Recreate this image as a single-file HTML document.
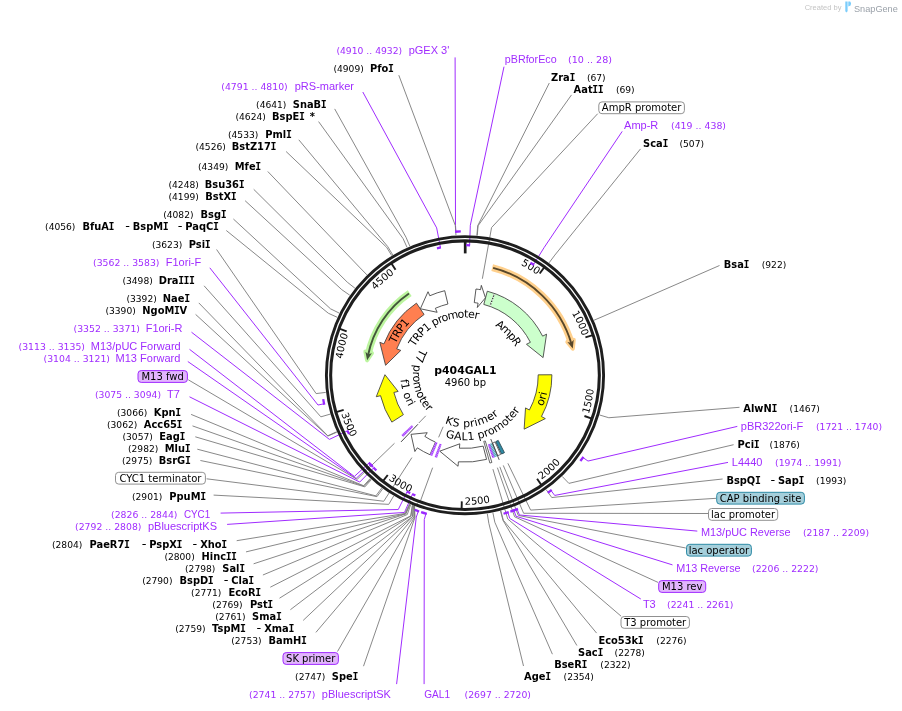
<!DOCTYPE html>
<html><head><meta charset="utf-8"><title>p404GAL1</title>
<style>html,body{margin:0;padding:0;background:#fff}svg{display:block;will-change:transform}text{white-space:pre}</style></head>
<body>
<svg width="902" height="711" viewBox="0 0 902 711">
<rect width="902" height="711" fill="#fff"/>
<defs><pattern id="hatch" width="1.3" height="1.3" patternUnits="userSpaceOnUse" patternTransform="rotate(35)"><rect width="0.5" height="1.3" fill="#fff" fill-opacity="0.6"/></pattern></defs>
<polyline points="455.1,57.4 455.51,225.5 455.9,231.69" fill="none" stroke="#a02cff" stroke-width="1" stroke-linejoin="round"/>
<polyline points="398.8,75.2 455.32,225.51 455.94,235.19" fill="none" stroke="#7a7a7a" stroke-width="0.9" stroke-linejoin="round"/>
<polyline points="362.8,92 436.67,227.9 440.45,247.54" fill="none" stroke="#a02cff" stroke-width="1" stroke-linejoin="round"/>
<polyline points="334.7,108.9 406.02,237.28 409.84,246.2" fill="none" stroke="#7a7a7a" stroke-width="0.9" stroke-linejoin="round"/>
<polyline points="318.6,121.6 403.07,238.58 407.07,247.42" fill="none" stroke="#7a7a7a" stroke-width="0.9" stroke-linejoin="round"/>
<polyline points="298.8,139.8 387.76,246.61 392.76,254.93" fill="none" stroke="#7a7a7a" stroke-width="0.9" stroke-linejoin="round"/>
<polyline points="286.1,151.5 386.63,247.3 391.69,255.57" fill="none" stroke="#7a7a7a" stroke-width="0.9" stroke-linejoin="round"/>
<polyline points="267.8,171.5 360.15,267.93 366.93,274.87" fill="none" stroke="#7a7a7a" stroke-width="0.9" stroke-linejoin="round"/>
<polyline points="253.7,189.3 347.32,282.19 354.93,288.2" fill="none" stroke="#7a7a7a" stroke-width="0.9" stroke-linejoin="round"/>
<polyline points="245.1,200.7 341.78,289.67 349.75,295.2" fill="none" stroke="#7a7a7a" stroke-width="0.9" stroke-linejoin="round"/>
<polyline points="233.4,219 330.5,308.8 339.19,313.09" fill="none" stroke="#7a7a7a" stroke-width="0.9" stroke-linejoin="round"/>
<polyline points="226.3,230.5 328.38,313.27 337.22,317.27" fill="none" stroke="#7a7a7a" stroke-width="0.9" stroke-linejoin="round"/>
<polyline points="216.6,249.5 316.13,393.59 325.76,392.4" fill="none" stroke="#7a7a7a" stroke-width="0.9" stroke-linejoin="round"/>
<polyline points="209.8,267.8 317.99,405.02 324.07,403.79" fill="none" stroke="#a02cff" stroke-width="1" stroke-linejoin="round"/>
<polyline points="204.1,285.8 320.89,416.83 330.21,414.14" fill="none" stroke="#7a7a7a" stroke-width="0.9" stroke-linejoin="round"/>
<polyline points="198.8,302.9 327.76,435.75 336.64,431.83" fill="none" stroke="#7a7a7a" stroke-width="0.9" stroke-linejoin="round"/>
<polyline points="195.6,314.4 327.92,436.09 336.78,432.16" fill="none" stroke="#7a7a7a" stroke-width="0.9" stroke-linejoin="round"/>
<polyline points="191.5,332.2 329.42,439.38 347.5,430.82" fill="none" stroke="#a02cff" stroke-width="1" stroke-linejoin="round"/>
<polyline points="189.5,349.3 354.34,476.46 369.09,462.96" fill="none" stroke="#a02cff" stroke-width="1" stroke-linejoin="round"/>
<polyline points="187.8,361.5 356.15,478.41 370.66,464.65" fill="none" stroke="#a02cff" stroke-width="1" stroke-linejoin="round"/>
<polyline points="188.3,379.8 357.1,479.4 394.5,443.28" fill="none" stroke="#7a7a7a" stroke-width="0.9" stroke-linejoin="round"/>
<polyline points="189.5,396.8 359.74,482.07 373.78,467.82" fill="none" stroke="#a02cff" stroke-width="1" stroke-linejoin="round"/>
<polyline points="191.1,414.4 363.6,485.73 370.16,478.59" fill="none" stroke="#7a7a7a" stroke-width="0.9" stroke-linejoin="round"/>
<polyline points="192.5,425.9 364.16,486.25 370.68,479.07" fill="none" stroke="#7a7a7a" stroke-width="0.9" stroke-linejoin="round"/>
<polyline points="195.3,436.8 364.87,486.88 371.34,479.66" fill="none" stroke="#7a7a7a" stroke-width="0.9" stroke-linejoin="round"/>
<polyline points="197.3,449.2 375.91,495.88 381.67,488.08" fill="none" stroke="#7a7a7a" stroke-width="0.9" stroke-linejoin="round"/>
<polyline points="200.4,460.5 376.99,496.66 382.68,488.81" fill="none" stroke="#7a7a7a" stroke-width="0.9" stroke-linejoin="round"/>
<polyline points="206.6,478.8 383.74,501.28 411.91,457.58" fill="none" stroke="#7a7a7a" stroke-width="0.9" stroke-linejoin="round"/>
<polyline points="213.6,495.1 388.74,504.37 393.67,496.02" fill="none" stroke="#7a7a7a" stroke-width="0.9" stroke-linejoin="round"/>
<polyline points="220.6,513.1 398.26,509.53 407.16,491.62" fill="none" stroke="#a02cff" stroke-width="1" stroke-linejoin="round"/>
<polyline points="227.1,524.4 404.45,512.44 412.53,494.14" fill="none" stroke="#a02cff" stroke-width="1" stroke-linejoin="round"/>
<polyline points="236.7,540.7 404.83,513.48 409.49,504.05" fill="none" stroke="#7a7a7a" stroke-width="0.9" stroke-linejoin="round"/>
<polyline points="246,551.9 405.53,513.78 409.84,504.2" fill="none" stroke="#7a7a7a" stroke-width="0.9" stroke-linejoin="round"/>
<polyline points="253.6,563.8 405.88,513.93 410.01,504.27" fill="none" stroke="#7a7a7a" stroke-width="0.9" stroke-linejoin="round"/>
<polyline points="262.9,575 407.29,514.52 410.71,504.57" fill="none" stroke="#7a7a7a" stroke-width="0.9" stroke-linejoin="round"/>
<polyline points="270.3,587.2 410.66,515.87 412.39,505.26" fill="none" stroke="#7a7a7a" stroke-width="0.9" stroke-linejoin="round"/>
<polyline points="279.5,598.2 411.02,516.01 412.57,505.33" fill="none" stroke="#7a7a7a" stroke-width="0.9" stroke-linejoin="round"/>
<polyline points="290.4,609.7 412.45,516.55 413.27,505.62" fill="none" stroke="#7a7a7a" stroke-width="0.9" stroke-linejoin="round"/>
<polyline points="303.2,620.4 412.81,516.68 413.45,505.69" fill="none" stroke="#7a7a7a" stroke-width="0.9" stroke-linejoin="round"/>
<polyline points="315.9,632.4 413.88,517.07 413.98,505.9" fill="none" stroke="#7a7a7a" stroke-width="0.9" stroke-linejoin="round"/>
<polyline points="337.5,651.5 414.6,517.33 414.45,505.75 420.6,500.57 432.61,467.69" fill="none" stroke="#7a7a7a" stroke-width="0.9" stroke-linejoin="round"/>
<polyline points="363.5,666.2 414.96,517.46 414.52,506.1" fill="none" stroke="#7a7a7a" stroke-width="0.9" stroke-linejoin="round"/>
<polyline points="396.6,684.1 416.3,517.08 418.32,511.21" fill="none" stroke="#a02cff" stroke-width="1" stroke-linejoin="round"/>
<polyline points="504,66.7 470.32,225.29 469.61,245.28" fill="none" stroke="#a02cff" stroke-width="1" stroke-linejoin="round"/>
<polyline points="549.3,83 477.72,225.74 476.89,235.41" fill="none" stroke="#7a7a7a" stroke-width="0.9" stroke-linejoin="round"/>
<polyline points="571.5,94.9 478.09,225.77 477.25,235.44" fill="none" stroke="#7a7a7a" stroke-width="0.9" stroke-linejoin="round"/>
<polyline points="597.7,113.7 491.56,227.57 482.35,278.75" fill="none" stroke="#7a7a7a" stroke-width="0.9" stroke-linejoin="round"/>
<polyline points="622.2,131.4 544.02,247.7 533.49,264.7" fill="none" stroke="#a02cff" stroke-width="1" stroke-linejoin="round"/>
<polyline points="640.5,148.9 554.85,255.09 549.04,262.86" fill="none" stroke="#7a7a7a" stroke-width="0.9" stroke-linejoin="round"/>
<polyline points="719.5,265.5 602.99,316.4 594.07,320.2" fill="none" stroke="#7a7a7a" stroke-width="0.9" stroke-linejoin="round"/>
<polyline points="739.5,407.3 608.84,417.74 599.54,414.99" fill="none" stroke="#7a7a7a" stroke-width="0.9" stroke-linejoin="round"/>
<polyline points="737.3,426.4 588.01,461.05 582.92,457.5" fill="none" stroke="#a02cff" stroke-width="1" stroke-linejoin="round"/>
<polyline points="733.6,444.7 568.89,483.39 562.18,476.4" fill="none" stroke="#7a7a7a" stroke-width="0.9" stroke-linejoin="round"/>
<polyline points="728,462.4 554.7,495.43 550.99,490.46" fill="none" stroke="#a02cff" stroke-width="1" stroke-linejoin="round"/>
<polyline points="722.6,479 551.78,497.55 546.17,489.64" fill="none" stroke="#7a7a7a" stroke-width="0.9" stroke-linejoin="round"/>
<polyline points="716.2,498.3 530.64,510.08 507.88,463.32" fill="none" stroke="#7a7a7a" stroke-width="0.9" stroke-linejoin="round"/>
<polyline points="708.3,513.5 523.61,513.28 503.29,465.41" fill="none" stroke="#7a7a7a" stroke-width="0.9" stroke-linejoin="round"/>
<polyline points="697.3,531.1 519.41,514.99 517.16,509.21" fill="none" stroke="#a02cff" stroke-width="1" stroke-linejoin="round"/>
<polyline points="685.8,548 518.27,515.42 499.8,466.81" fill="none" stroke="#7a7a7a" stroke-width="0.9" stroke-linejoin="round"/>
<polyline points="672.5,564.9 516.03,516.25 513.92,510.42" fill="none" stroke="#a02cff" stroke-width="1" stroke-linejoin="round"/>
<polyline points="658,582.4 514.58,516.77 497.39,467.69" fill="none" stroke="#7a7a7a" stroke-width="0.9" stroke-linejoin="round"/>
<polyline points="640.8,599 509.72,518.38 507.87,512.46" fill="none" stroke="#a02cff" stroke-width="1" stroke-linejoin="round"/>
<polyline points="621.1,616.2 507.73,518.99 492.92,469.14" fill="none" stroke="#7a7a7a" stroke-width="0.9" stroke-linejoin="round"/>
<polyline points="596.6,633.1 503.33,520.22 500.85,510.84" fill="none" stroke="#7a7a7a" stroke-width="0.9" stroke-linejoin="round"/>
<polyline points="576.9,645.5 502.97,520.32 500.51,510.93" fill="none" stroke="#7a7a7a" stroke-width="0.9" stroke-linejoin="round"/>
<polyline points="552.4,654.2 494.82,522.21 492.89,512.7" fill="none" stroke="#7a7a7a" stroke-width="0.9" stroke-linejoin="round"/>
<polyline points="523.5,666 488.84,523.29 487.3,513.72" fill="none" stroke="#7a7a7a" stroke-width="0.9" stroke-linejoin="round"/>
<polyline points="424.1,684.1 424.28,519.57 425.97,513.6" fill="none" stroke="#a02cff" stroke-width="1" stroke-linejoin="round"/>
<circle cx="465.0" cy="375.2" r="138.6" fill="none" stroke="#1e1e1e" stroke-width="2.9"/>
<circle cx="465.0" cy="375.2" r="134.35" fill="none" stroke="#1e1e1e" stroke-width="3.05"/>
<line x1="465.2" y1="241.2" x2="465.2" y2="253.4" stroke="#1c1c1c" stroke-width="2.7"/>
<line x1="544.31" y1="267.19" x2="539.69" y2="273.48" stroke="#1c1c1c" stroke-width="1.9"/>
<line x1="592.85" y1="335.09" x2="585.41" y2="337.42" stroke="#1c1c1c" stroke-width="1.9"/>
<line x1="591.8" y1="418.54" x2="584.42" y2="416.02" stroke="#1c1c1c" stroke-width="1.9"/>
<line x1="541.55" y1="485.18" x2="537.09" y2="478.78" stroke="#1c1c1c" stroke-width="1.9"/>
<line x1="461.61" y1="509.16" x2="461.8" y2="501.36" stroke="#1c1c1c" stroke-width="1.9"/>
<line x1="382.98" y1="481.16" x2="387.75" y2="475" stroke="#1c1c1c" stroke-width="1.9"/>
<line x1="336.17" y1="412.06" x2="343.67" y2="409.92" stroke="#1c1c1c" stroke-width="1.9"/>
<line x1="339.34" y1="328.66" x2="346.66" y2="331.37" stroke="#1c1c1c" stroke-width="1.9"/>
<line x1="391.26" y1="263.31" x2="395.55" y2="269.83" stroke="#1c1c1c" stroke-width="1.9"/>
<path id="p1" d="M455.71,251.95A123.6,123.6 0 0 1 537.11,274.81" fill="none"/>
<text font-family="DejaVu Sans, sans-serif" font-size="10" font-weight="normal" fill="#000" text-anchor="end"><textPath href="#p1" startOffset="100%">500</textPath></text>
<path id="p2" d="M529.73,269.9A123.6,123.6 0 0 1 582.27,336.15" fill="none"/>
<text font-family="DejaVu Sans, sans-serif" font-size="10" font-weight="normal" fill="#000" text-anchor="end"><textPath href="#p2" startOffset="100%">1000</textPath></text>
<path id="p3" d="M588.62,414.11A129.6,129.6 0 0 0 584.71,325.54" fill="none"/>
<text font-family="DejaVu Sans, sans-serif" font-size="10" font-weight="normal" fill="#000" text-anchor="start"><textPath href="#p3" startOffset="0">1500</textPath></text>
<path id="p4" d="M541.61,479.73A129.6,129.6 0 0 0 590.88,406.03" fill="none"/>
<text font-family="DejaVu Sans, sans-serif" font-size="10" font-weight="normal" fill="#000" text-anchor="start"><textPath href="#p4" startOffset="0">2000</textPath></text>
<path id="p5" d="M464.88,504.8A129.6,129.6 0 0 0 548.22,474.55" fill="none"/>
<text font-family="DejaVu Sans, sans-serif" font-size="10" font-weight="normal" fill="#000" text-anchor="start"><textPath href="#p5" startOffset="0">2500</textPath></text>
<path id="p6" d="M388.2,479.59A129.6,129.6 0 0 0 473.27,504.54" fill="none"/>
<text font-family="DejaVu Sans, sans-serif" font-size="10" font-weight="normal" fill="#000" text-anchor="start"><textPath href="#p6" startOffset="0">3000</textPath></text>
<path id="p7" d="M341.31,413.89A129.6,129.6 0 0 0 395.11,484.34" fill="none"/>
<text font-family="DejaVu Sans, sans-serif" font-size="10" font-weight="normal" fill="#000" text-anchor="start"><textPath href="#p7" startOffset="0">3500</textPath></text>
<path id="p8" d="M349.36,418.84A123.6,123.6 0 0 1 348.36,334.3" fill="none"/>
<text font-family="DejaVu Sans, sans-serif" font-size="10" font-weight="normal" fill="#000" text-anchor="end"><textPath href="#p8" startOffset="100%">4000</textPath></text>
<path id="p9" d="M345.73,342.77A123.6,123.6 0 0 1 394.48,273.69" fill="none"/>
<text font-family="DejaVu Sans, sans-serif" font-size="10" font-weight="normal" fill="#000" text-anchor="end"><textPath href="#p9" startOffset="100%">4500</textPath></text>
<path d="M455.02,231.75A143.8,143.8 0 0 1 460.78,231.46" fill="none" stroke="#9a28ff" stroke-width="2.3" stroke-linecap="butt"/>
<path d="M436.94,248.26A130,130 0 0 1 440.89,247.45" fill="none" stroke="#9a28ff" stroke-width="2.3" stroke-linecap="butt"/>
<path d="M324.25,404.65A143.8,143.8 0 0 1 323.21,399.17" fill="none" stroke="#9a28ff" stroke-width="2.3" stroke-linecap="butt"/>
<path d="M349.08,434.04A130,130 0 0 1 347.31,430.41" fill="none" stroke="#9a28ff" stroke-width="2.3" stroke-linecap="butt"/>
<path d="M371.89,465.92A130,130 0 0 1 368.79,462.62" fill="none" stroke="#9a28ff" stroke-width="2.3" stroke-linecap="butt"/>
<path d="M372.93,466.98A130,130 0 0 1 370.35,464.32" fill="none" stroke="#9a28ff" stroke-width="2.3" stroke-linecap="butt"/>
<path d="M376.36,470.3A130,130 0 0 1 373.45,467.5" fill="none" stroke="#9a28ff" stroke-width="2.3" stroke-linecap="butt"/>
<path d="M410.24,493.1A130,130 0 0 1 406.75,491.42" fill="none" stroke="#9a28ff" stroke-width="2.3" stroke-linecap="butt"/>
<path d="M415.37,495.35A130,130 0 0 1 412.11,493.95" fill="none" stroke="#9a28ff" stroke-width="2.3" stroke-linecap="butt"/>
<path d="M419.15,511.49A143.8,143.8 0 0 1 414.75,509.93" fill="none" stroke="#9a28ff" stroke-width="2.3" stroke-linecap="butt"/>
<path d="M466.19,245.21A130,130 0 0 1 470.06,245.3" fill="none" stroke="#9a28ff" stroke-width="2.3" stroke-linecap="butt"/>
<path d="M530.41,262.86A130,130 0 0 1 533.87,264.94" fill="none" stroke="#9a28ff" stroke-width="2.3" stroke-linecap="butt"/>
<path d="M583.42,456.78A143.8,143.8 0 0 1 580.38,461.02" fill="none" stroke="#9a28ff" stroke-width="2.3" stroke-linecap="butt"/>
<path d="M551.69,489.93A143.8,143.8 0 0 1 547.77,492.79" fill="none" stroke="#9a28ff" stroke-width="2.3" stroke-linecap="butt"/>
<path d="M517.97,508.89A143.8,143.8 0 0 1 512.57,510.9" fill="none" stroke="#9a28ff" stroke-width="2.3" stroke-linecap="butt"/>
<path d="M514.74,510.12A143.8,143.8 0 0 1 510.33,511.67" fill="none" stroke="#9a28ff" stroke-width="2.3" stroke-linecap="butt"/>
<path d="M508.71,512.2A143.8,143.8 0 0 1 503.54,513.74" fill="none" stroke="#9a28ff" stroke-width="2.3" stroke-linecap="butt"/>
<path d="M426.81,513.84A143.8,143.8 0 0 1 421.11,512.14" fill="none" stroke="#9a28ff" stroke-width="2.3" stroke-linecap="butt"/>
<path d="M474.25,302.59L475.98,289A86.9,86.9 0 0 1 480.55,289.7L481.33,285.37L485.46,297.81L477.31,307.51L478.1,303.18A73.2,73.2 0 0 0 474.25,302.59Z" fill="#ffffff" stroke="#3c3c3c" stroke-width="0.85" stroke-linejoin="miter"/>
<path d="M483.8,304.45L487.31,291.21A86.9,86.9 0 0 1 542.63,336.15L546.56,334.17L543.09,357.6L526.46,344.29L530.39,342.31A73.2,73.2 0 0 0 483.8,304.45Z" fill="#ccffcc" stroke="#3c3c3c" stroke-width="0.85" stroke-linejoin="miter"/>
<line x1="490.04" y1="305.99" x2="494.42" y2="293.86" stroke="#222" stroke-width="1.1"/>
<line x1="490.04" y1="305.99" x2="494.42" y2="293.86" stroke="#fff" stroke-width="1.3" stroke-dasharray="1.5,1.3"/>
<path d="M538.2,374.83L551.9,374.76A86.9,86.9 0 0 1 541.45,416.51L545.32,418.61L524.13,429.16L525.53,407.91L529.4,410A73.2,73.2 0 0 0 538.2,374.83Z" fill="#ffff00" stroke="#3c3c3c" stroke-width="0.85" stroke-linejoin="miter"/>
<path d="M483.17,446.11L486.57,459.38A86.9,86.9 0 0 1 458.39,461.85L458.05,466.24L439.78,451.17L459.77,443.8L459.43,448.19A73.2,73.2 0 0 0 483.17,446.11Z" fill="#ffffff" stroke="#3c3c3c" stroke-width="0.85" stroke-linejoin="miter"/>
<path d="M435.45,442.17L429.92,454.71A86.9,86.9 0 0 1 417.31,447.84L414.89,451.52L411.04,434.33L427.24,432.71L424.83,436.39A73.2,73.2 0 0 0 435.45,442.17Z" fill="#ffffff" stroke="#3c3c3c" stroke-width="0.85" stroke-linejoin="miter"/>
<path d="M403.37,414.7L391.84,422.1A86.9,86.9 0 0 1 380.55,395.69L376.27,396.73L384.95,374.69L398.14,391.42L393.86,392.46A73.2,73.2 0 0 0 403.37,414.7Z" fill="#ffff00" stroke="#3c3c3c" stroke-width="0.85" stroke-linejoin="miter"/>
<path d="M424.1,314.49L416.45,303.13A86.9,86.9 0 0 0 383.93,343.9L379.83,342.31L385.57,365.29L400.82,350.42L396.71,348.83A73.2,73.2 0 0 1 424.1,314.49Z" fill="#ff7f50" stroke="#3c3c3c" stroke-width="0.85" stroke-linejoin="miter"/>
<path d="M447.91,304.02L444.71,290.7A86.9,86.9 0 0 0 429.8,295.75L428.02,291.73L420.36,308.75L437.13,312.3L435.35,308.27A73.2,73.2 0 0 1 447.91,304.02Z" fill="#ffffff" stroke="#3c3c3c" stroke-width="0.85" stroke-linejoin="miter"/>
<path d="M492.19,267.58A111,111 0 0 1 571.5,343.93" fill="none" stroke="#ffd08c" stroke-width="6.9" stroke-linecap="butt"/>
<path d="M572.75,348.53L573.7,339.87L571.16,342.79L567.43,341.91Z" fill="#ffd08c" stroke="#ffd08c" stroke-width="4.2" stroke-linejoin="round"/>
<path d="M493.13,267.82A111,111 0 0 1 571.5,343.93" fill="none" stroke="#58472a" stroke-width="1.9"/>
<path d="M572.75,348.53L573.7,339.87L571.16,342.79L567.43,341.91Z" fill="#58472a"/>
<path d="M409.69,293.09A99,99 0 0 0 367.98,355.51" fill="none" stroke="#bcf59f" stroke-width="6.9" stroke-linecap="butt"/>
<path d="M367.14,360.2L365.45,351.64L368.22,354.34L371.87,353.16Z" fill="#bcf59f" stroke="#bcf59f" stroke-width="4.2" stroke-linejoin="round"/>
<path d="M408.97,293.58A99,99 0 0 0 367.98,355.51" fill="none" stroke="#43553a" stroke-width="1.9"/>
<path d="M367.14,360.2L365.45,351.64L368.22,354.34L371.87,353.16Z" fill="#43553a"/>
<path d="M485.26,440.95L491.89,462.45A91.3,91.3 0 0 1 489.89,463.04L483.76,441.39A68.8,68.8 0 0 0 485.26,440.95Z" fill="#ffffff" stroke="#444" stroke-width="0.8"/>
<path d="M490.37,443.65L495.31,456.96L492.35,458L487.89,444.52Z" fill="#a030ff" fill-opacity="1"/>
<path d="M490.37,443.65L495.31,456.96L492.35,458L487.89,444.52Z" fill="url(#hatch)"/>
<path d="M492.04,443.01L497.3,456.2L494.51,457.26L489.7,443.89Z" fill="#3f9db3" fill-opacity="0.9"/>
<path d="M492.04,443.01L497.3,456.2L494.51,457.26L489.7,443.89Z" fill="url(#hatch)"/>
<path d="M495.06,441.95L500.68,454.44A86.9,86.9 0 0 1 497.64,455.74L492.5,443.04A73.2,73.2 0 0 0 495.06,441.95Z" fill="#ffffff" stroke="#444" stroke-width="0.8"/>
<polyline points="490.76,438.99 499.19,459.86" fill="none" stroke="#444" stroke-width="0.9" stroke-linejoin="round"/>
<path d="M498.23,440.42L504.45,452.63A86.9,86.9 0 0 1 501.58,454.03L495.81,441.6A73.2,73.2 0 0 0 498.23,440.42Z" fill="#2e8ba5" stroke="#2b4b55" stroke-width="0.9"/>
<path d="M441.6,444.35L437.05,457.8L434.67,456.95L439.61,443.64Z" fill="#a030ff" fill-opacity="1"/>
<path d="M441.6,444.35L437.05,457.8L434.67,456.95L439.61,443.64Z" fill="url(#hatch)"/>
<path d="M437.53,442.83L432.19,455.99L429.86,455.01L435.58,442.01Z" fill="#a030ff" fill-opacity="1"/>
<path d="M437.53,442.83L432.19,455.99L429.86,455.01L435.58,442.01Z" fill="url(#hatch)"/>
<polyline points="417.93,424.28 401.05,441.89" fill="none" stroke="#444" stroke-width="1" stroke-linejoin="round"/>
<path d="M413.28,426.72L403.22,436.74L401.46,434.92L411.81,425.2Z" fill="#a030ff" fill-opacity="1"/>
<path d="M413.28,426.72L403.22,436.74L401.46,434.92L411.81,425.2Z" fill="url(#hatch)"/>
<polyline points="418.81,423.04 425.75,415.84" fill="none" stroke="#7a7a7a" stroke-width="0.9" stroke-linejoin="round"/>
<polyline points="438.63,437.33 443.12,426.75" fill="none" stroke="#7a7a7a" stroke-width="0.9" stroke-linejoin="round"/>
<text x="465.4" y="374" font-family="DejaVu Sans, sans-serif" font-weight="bold" font-size="10.85" text-anchor="middle">p404GAL1</text>
<text x="465.4" y="386" font-family="DejaVu Sans, sans-serif" font-size="10" text-anchor="middle">4960 bp</text>
<path id="p10" d="M399.71,367.88A65.7,65.7 0 0 1 503.99,322.32" fill="none"/>
<text font-family="DejaVu Sans, sans-serif" font-size="11" font-weight="normal" fill="#000" text-anchor="middle" dy="8.03"><textPath href="#p10" startOffset="50%" textLength="84.2" lengthAdjust="spacing">TRP1 promoter</textPath></text>
<path id="p11" d="M449.11,311.45A65.7,65.7 0 0 1 528.15,393.31" fill="none"/>
<text font-family="DejaVu Sans, sans-serif" font-size="11" font-weight="normal" fill="#000" text-anchor="middle" dy="8.03"><textPath href="#p11" startOffset="50%">AmpR</textPath></text>
<path id="p12" d="M389.32,412.11A84.2,84.2 0 0 1 470.87,291.21" fill="none"/>
<text font-family="DejaVu Sans, sans-serif" font-size="11" font-weight="normal" fill="#000" text-anchor="middle" dy="8.03"><textPath href="#p12" startOffset="50%">TRP1</textPath></text>
<path id="p13" d="M483.9,457.05A84,84 0 0 0 526.43,317.91" fill="none"/>
<text font-family="DejaVu Sans, sans-serif" font-size="11" font-weight="normal" fill="#000" text-anchor="middle"><textPath href="#p13" startOffset="50%">ori</textPath></text>
<path id="p14" d="M433.78,333.62A52,52 0 0 0 444.6,423.03" fill="none"/>
<text font-family="DejaVu Sans, sans-serif" font-size="11" font-weight="normal" fill="#000" text-anchor="middle"><textPath href="#p14" startOffset="50%">T7 promoter</textPath></text>
<path id="p15" d="M418.14,330.88A64.5,64.5 0 0 0 450.05,437.94" fill="none"/>
<text font-family="DejaVu Sans, sans-serif" font-size="11" font-weight="normal" fill="#000" text-anchor="middle"><textPath href="#p15" startOffset="50%">f1 ori</textPath></text>
<path id="p16" d="M424.47,407.78A52,52 0 0 0 513.48,394" fill="none"/>
<text font-family="DejaVu Sans, sans-serif" font-size="11" font-weight="normal" fill="#000" text-anchor="middle"><textPath href="#p16" startOffset="50%" textLength="57.6" lengthAdjust="spacing">KS primer</textPath></text>
<path id="p17" d="M423.31,425.07A65,65 0 0 0 529.03,386.38" fill="none"/>
<text font-family="DejaVu Sans, sans-serif" font-size="11" font-weight="normal" fill="#000" text-anchor="middle"><textPath href="#p17" startOffset="50%" textLength="85.2" lengthAdjust="spacing">GAL1 promoter</textPath></text>
<text x="336.4" y="54" font-family="DejaVu Sans, sans-serif" font-size="9" font-weight="normal" fill="#a02cff" text-anchor="start" textLength="65.8" lengthAdjust="spacingAndGlyphs">(4910 .. 4932)</text>
<text x="428.95" y="54" font-family="Liberation Sans, sans-serif" font-size="11" font-weight="normal" fill="#a02cff" text-anchor="middle">pGEX 3'</text>
<text x="348.6" y="72" font-family="DejaVu Sans, sans-serif" font-size="9.15" font-weight="normal" fill="#000" text-anchor="middle">(4909)</text>
<text x="369.9" y="72" font-family="DejaVu Sans, sans-serif" font-size="9.9" font-weight="bold" fill="#000" text-anchor="start">Pfo<tspan font-family="DejaVu Sans Mono, monospace" dx="-0.3" letter-spacing="-0.3">I</tspan></text>
<text x="221.3" y="90" font-family="DejaVu Sans, sans-serif" font-size="9" font-weight="normal" fill="#a02cff" text-anchor="start" textLength="66.4" lengthAdjust="spacingAndGlyphs">(4791 .. 4810)</text>
<text x="324.4" y="90" font-family="Liberation Sans, sans-serif" font-size="11" font-weight="normal" fill="#a02cff" text-anchor="middle">pRS-marker</text>
<text x="271.25" y="108" font-family="DejaVu Sans, sans-serif" font-size="9.15" font-weight="normal" fill="#000" text-anchor="middle">(4641)</text>
<text x="292.8" y="108" font-family="DejaVu Sans, sans-serif" font-size="9.9" font-weight="bold" fill="#000" text-anchor="start">SnaB<tspan font-family="DejaVu Sans Mono, monospace" dx="-0.3" letter-spacing="-0.3">I</tspan></text>
<text x="250.65" y="120" font-family="DejaVu Sans, sans-serif" font-size="9.15" font-weight="normal" fill="#000" text-anchor="middle">(4624)</text>
<text x="272" y="120" font-family="DejaVu Sans, sans-serif" font-size="9.9" font-weight="bold" fill="#000" text-anchor="start">BspE<tspan font-family="DejaVu Sans Mono, monospace" dx="-0.3" letter-spacing="-0.3">I</tspan></text>
<text x="309.7" y="120" font-family="DejaVu Sans, sans-serif" font-size="9.9" font-weight="bold" fill="#000" text-anchor="start">*</text>
<text x="243.15" y="138" font-family="DejaVu Sans, sans-serif" font-size="9.15" font-weight="normal" fill="#000" text-anchor="middle">(4533)</text>
<text x="265.3" y="138" font-family="DejaVu Sans, sans-serif" font-size="9.9" font-weight="bold" fill="#000" text-anchor="start">Pml<tspan font-family="DejaVu Sans Mono, monospace" dx="-0.3" letter-spacing="-0.3">I</tspan></text>
<text x="210.65" y="150" font-family="DejaVu Sans, sans-serif" font-size="9.15" font-weight="normal" fill="#000" text-anchor="middle">(4526)</text>
<text x="231.8" y="150" font-family="DejaVu Sans, sans-serif" font-size="9.9" font-weight="bold" fill="#000" text-anchor="start">BstZ17<tspan font-family="DejaVu Sans Mono, monospace" dx="-0.3" letter-spacing="-0.3">I</tspan></text>
<text x="213.15" y="170" font-family="DejaVu Sans, sans-serif" font-size="9.15" font-weight="normal" fill="#000" text-anchor="middle">(4349)</text>
<text x="234.8" y="170" font-family="DejaVu Sans, sans-serif" font-size="9.9" font-weight="bold" fill="#000" text-anchor="start">Mfe<tspan font-family="DejaVu Sans Mono, monospace" dx="-0.3" letter-spacing="-0.3">I</tspan></text>
<text x="183.65" y="188" font-family="DejaVu Sans, sans-serif" font-size="9.15" font-weight="normal" fill="#000" text-anchor="middle">(4248)</text>
<text x="204.8" y="188" font-family="DejaVu Sans, sans-serif" font-size="9.9" font-weight="bold" fill="#000" text-anchor="start">Bsu36<tspan font-family="DejaVu Sans Mono, monospace" dx="-0.3" letter-spacing="-0.3">I</tspan></text>
<text x="183.65" y="200" font-family="DejaVu Sans, sans-serif" font-size="9.15" font-weight="normal" fill="#000" text-anchor="middle">(4199)</text>
<text x="205.3" y="200" font-family="DejaVu Sans, sans-serif" font-size="9.9" font-weight="bold" fill="#000" text-anchor="start">BstX<tspan font-family="DejaVu Sans Mono, monospace" dx="-0.3" letter-spacing="-0.3">I</tspan></text>
<text x="178.35" y="218" font-family="DejaVu Sans, sans-serif" font-size="9.15" font-weight="normal" fill="#000" text-anchor="middle">(4082)</text>
<text x="200.5" y="218" font-family="DejaVu Sans, sans-serif" font-size="9.9" font-weight="bold" fill="#000" text-anchor="start">Bsg<tspan font-family="DejaVu Sans Mono, monospace" dx="-0.3" letter-spacing="-0.3">I</tspan></text>
<text x="60.25" y="230" font-family="DejaVu Sans, sans-serif" font-size="9.15" font-weight="normal" fill="#000" text-anchor="middle">(4056)</text>
<text x="82.4" y="230" font-family="DejaVu Sans, sans-serif" font-size="9.9" font-weight="bold" fill="#000" text-anchor="start">BfuA<tspan font-family="DejaVu Sans Mono, monospace" dx="-0.3" letter-spacing="-0.3">I</tspan></text>
<text x="125.8" y="230" font-family="DejaVu Sans, sans-serif" font-size="9.9" font-weight="bold" fill="#000" text-anchor="start"><tspan font-weight="normal" font-size="13" dx="-0.5">-</tspan><tspan dx="-0.6"> </tspan>BspM<tspan font-family="DejaVu Sans Mono, monospace" dx="-0.3" letter-spacing="-0.3">I</tspan></text>
<text x="178.3" y="230" font-family="DejaVu Sans, sans-serif" font-size="9.9" font-weight="bold" fill="#000" text-anchor="start"><tspan font-weight="normal" font-size="13" dx="-0.5">-</tspan><tspan dx="-0.6"> </tspan>PaqC<tspan font-family="DejaVu Sans Mono, monospace" dx="-0.3" letter-spacing="-0.3">I</tspan></text>
<text x="167.1" y="248" font-family="DejaVu Sans, sans-serif" font-size="9.15" font-weight="normal" fill="#000" text-anchor="middle">(3623)</text>
<text x="188.8" y="248" font-family="DejaVu Sans, sans-serif" font-size="9.9" font-weight="bold" fill="#000" text-anchor="start">Psi<tspan font-family="DejaVu Sans Mono, monospace" dx="-0.3" letter-spacing="-0.3">I</tspan></text>
<text x="93" y="266" font-family="DejaVu Sans, sans-serif" font-size="9" font-weight="normal" fill="#a02cff" text-anchor="start" textLength="66.5" lengthAdjust="spacingAndGlyphs">(3562 .. 3583)</text>
<text x="183.5" y="266" font-family="Liberation Sans, sans-serif" font-size="11" font-weight="normal" fill="#a02cff" text-anchor="middle">F1ori-F</text>
<text x="137.6" y="284" font-family="DejaVu Sans, sans-serif" font-size="9.15" font-weight="normal" fill="#000" text-anchor="middle">(3498)</text>
<text x="158.8" y="284" font-family="DejaVu Sans, sans-serif" font-size="9.9" font-weight="bold" fill="#000" text-anchor="start">Dra<tspan font-family="DejaVu Sans Mono, monospace" dx="-0.3" letter-spacing="-0.3">I</tspan><tspan font-family="DejaVu Sans Mono, monospace" dx="-0.3" letter-spacing="-0.3">I</tspan><tspan font-family="DejaVu Sans Mono, monospace" dx="-0.3" letter-spacing="-0.3">I</tspan></text>
<text x="141.6" y="302" font-family="DejaVu Sans, sans-serif" font-size="9.15" font-weight="normal" fill="#000" text-anchor="middle">(3392)</text>
<text x="162.8" y="302" font-family="DejaVu Sans, sans-serif" font-size="9.9" font-weight="bold" fill="#000" text-anchor="start">Nae<tspan font-family="DejaVu Sans Mono, monospace" dx="-0.3" letter-spacing="-0.3">I</tspan></text>
<text x="120.6" y="314" font-family="DejaVu Sans, sans-serif" font-size="9.15" font-weight="normal" fill="#000" text-anchor="middle">(3390)</text>
<text x="142.3" y="314" font-family="DejaVu Sans, sans-serif" font-size="9.9" font-weight="bold" fill="#000" text-anchor="start">NgoM<tspan font-family="DejaVu Sans Mono, monospace" dx="-0.3" letter-spacing="-0.3">I</tspan>V</text>
<text x="73.5" y="332" font-family="DejaVu Sans, sans-serif" font-size="9" font-weight="normal" fill="#a02cff" text-anchor="start" textLength="66.5" lengthAdjust="spacingAndGlyphs">(3352 .. 3371)</text>
<text x="164" y="332" font-family="Liberation Sans, sans-serif" font-size="11" font-weight="normal" fill="#a02cff" text-anchor="middle">F1ori-R</text>
<text x="18.5" y="350" font-family="DejaVu Sans, sans-serif" font-size="9" font-weight="normal" fill="#a02cff" text-anchor="start" textLength="66.5" lengthAdjust="spacingAndGlyphs">(3113 .. 3135)</text>
<text x="135.75" y="350" font-family="Liberation Sans, sans-serif" font-size="11" font-weight="normal" fill="#a02cff" text-anchor="middle">M13/pUC Forward</text>
<text x="43.5" y="362" font-family="DejaVu Sans, sans-serif" font-size="9" font-weight="normal" fill="#a02cff" text-anchor="start" textLength="66.5" lengthAdjust="spacingAndGlyphs">(3104 .. 3121)</text>
<text x="148" y="362" font-family="Liberation Sans, sans-serif" font-size="11" font-weight="normal" fill="#a02cff" text-anchor="middle">M13 Forward</text>
<rect x="138" y="370.6" width="49.4" height="11.8" rx="3.2" ry="3.2" fill="#e2b5fd" stroke="#a02cff" stroke-width="1"/>
<text x="162.7" y="380" font-family="DejaVu Sans, sans-serif" font-size="10" font-weight="normal" fill="#000" text-anchor="middle">M13 fwd</text>
<text x="95" y="398" font-family="DejaVu Sans, sans-serif" font-size="9" font-weight="normal" fill="#a02cff" text-anchor="start" textLength="66" lengthAdjust="spacingAndGlyphs">(3075 .. 3094)</text>
<text x="173.5" y="398" font-family="Liberation Sans, sans-serif" font-size="11" font-weight="normal" fill="#a02cff" text-anchor="middle">T7</text>
<text x="132.15" y="416" font-family="DejaVu Sans, sans-serif" font-size="9.15" font-weight="normal" fill="#000" text-anchor="middle">(3066)</text>
<text x="153.8" y="416" font-family="DejaVu Sans, sans-serif" font-size="9.9" font-weight="bold" fill="#000" text-anchor="start">Kpn<tspan font-family="DejaVu Sans Mono, monospace" dx="-0.3" letter-spacing="-0.3">I</tspan></text>
<text x="122.15" y="428" font-family="DejaVu Sans, sans-serif" font-size="9.15" font-weight="normal" fill="#000" text-anchor="middle">(3062)</text>
<text x="143.8" y="428" font-family="DejaVu Sans, sans-serif" font-size="9.9" font-weight="bold" fill="#000" text-anchor="start">Acc65<tspan font-family="DejaVu Sans Mono, monospace" dx="-0.3" letter-spacing="-0.3">I</tspan></text>
<text x="137.65" y="440" font-family="DejaVu Sans, sans-serif" font-size="9.15" font-weight="normal" fill="#000" text-anchor="middle">(3057)</text>
<text x="159.3" y="440" font-family="DejaVu Sans, sans-serif" font-size="9.9" font-weight="bold" fill="#000" text-anchor="start">Eag<tspan font-family="DejaVu Sans Mono, monospace" dx="-0.3" letter-spacing="-0.3">I</tspan></text>
<text x="143.15" y="452" font-family="DejaVu Sans, sans-serif" font-size="9.15" font-weight="normal" fill="#000" text-anchor="middle">(2982)</text>
<text x="164.8" y="452" font-family="DejaVu Sans, sans-serif" font-size="9.9" font-weight="bold" fill="#000" text-anchor="start">Mlu<tspan font-family="DejaVu Sans Mono, monospace" dx="-0.3" letter-spacing="-0.3">I</tspan></text>
<text x="137.15" y="464" font-family="DejaVu Sans, sans-serif" font-size="9.15" font-weight="normal" fill="#000" text-anchor="middle">(2975)</text>
<text x="158.8" y="464" font-family="DejaVu Sans, sans-serif" font-size="9.9" font-weight="bold" fill="#000" text-anchor="start">BsrG<tspan font-family="DejaVu Sans Mono, monospace" dx="-0.3" letter-spacing="-0.3">I</tspan></text>
<rect x="115.5" y="472.3" width="89.9" height="11.8" rx="3.2" ry="3.2" fill="#ffffff" stroke="#909090" stroke-width="1"/>
<text x="160.45" y="482" font-family="DejaVu Sans, sans-serif" font-size="10" font-weight="normal" fill="#000" text-anchor="middle">CYC1 terminator</text>
<text x="147.15" y="500" font-family="DejaVu Sans, sans-serif" font-size="9.15" font-weight="normal" fill="#000" text-anchor="middle">(2901)</text>
<text x="169.3" y="500" font-family="DejaVu Sans, sans-serif" font-size="9.9" font-weight="bold" fill="#000" text-anchor="start">PpuM<tspan font-family="DejaVu Sans Mono, monospace" dx="-0.3" letter-spacing="-0.3">I</tspan></text>
<text x="111" y="518" font-family="DejaVu Sans, sans-serif" font-size="9" font-weight="normal" fill="#a02cff" text-anchor="start" textLength="66.5" lengthAdjust="spacingAndGlyphs">(2826 .. 2844)</text>
<text x="183.9" y="518" font-family="Liberation Sans, sans-serif" font-size="11" font-weight="normal" fill="#a02cff" text-anchor="start" textLength="26.2" lengthAdjust="spacingAndGlyphs">CYC1</text>
<text x="75" y="530" font-family="DejaVu Sans, sans-serif" font-size="9" font-weight="normal" fill="#a02cff" text-anchor="start" textLength="66.5" lengthAdjust="spacingAndGlyphs">(2792 .. 2808)</text>
<text x="182.5" y="530" font-family="Liberation Sans, sans-serif" font-size="11" font-weight="normal" fill="#a02cff" text-anchor="middle">pBluescriptKS</text>
<text x="67.15" y="548" font-family="DejaVu Sans, sans-serif" font-size="9.15" font-weight="normal" fill="#000" text-anchor="middle">(2804)</text>
<text x="89.5" y="548" font-family="DejaVu Sans, sans-serif" font-size="9.9" font-weight="bold" fill="#000" text-anchor="start">PaeR7<tspan font-family="DejaVu Sans Mono, monospace" dx="-0.3" letter-spacing="-0.3">I</tspan></text>
<text x="142.2" y="548" font-family="DejaVu Sans, sans-serif" font-size="9.9" font-weight="bold" fill="#000" text-anchor="start"><tspan font-weight="normal" font-size="13" dx="-0.5">-</tspan><tspan dx="-0.6"> </tspan>PspX<tspan font-family="DejaVu Sans Mono, monospace" dx="-0.3" letter-spacing="-0.3">I</tspan></text>
<text x="193.1" y="548" font-family="DejaVu Sans, sans-serif" font-size="9.9" font-weight="bold" fill="#000" text-anchor="start"><tspan font-weight="normal" font-size="13" dx="-0.5">-</tspan><tspan dx="-0.6"> </tspan>Xho<tspan font-family="DejaVu Sans Mono, monospace" dx="-0.3" letter-spacing="-0.3">I</tspan></text>
<text x="179.55" y="560" font-family="DejaVu Sans, sans-serif" font-size="9.15" font-weight="normal" fill="#000" text-anchor="middle">(2800)</text>
<text x="201.5" y="560" font-family="DejaVu Sans, sans-serif" font-size="9.9" font-weight="bold" fill="#000" text-anchor="start">Hinc<tspan font-family="DejaVu Sans Mono, monospace" dx="-0.3" letter-spacing="-0.3">I</tspan><tspan font-family="DejaVu Sans Mono, monospace" dx="-0.3" letter-spacing="-0.3">I</tspan></text>
<text x="200.2" y="572" font-family="DejaVu Sans, sans-serif" font-size="9.15" font-weight="normal" fill="#000" text-anchor="middle">(2798)</text>
<text x="222.3" y="572" font-family="DejaVu Sans, sans-serif" font-size="9.9" font-weight="bold" fill="#000" text-anchor="start">Sal<tspan font-family="DejaVu Sans Mono, monospace" dx="-0.3" letter-spacing="-0.3">I</tspan></text>
<text x="157.3" y="584" font-family="DejaVu Sans, sans-serif" font-size="9.15" font-weight="normal" fill="#000" text-anchor="middle">(2790)</text>
<text x="179.5" y="584" font-family="DejaVu Sans, sans-serif" font-size="9.9" font-weight="bold" fill="#000" text-anchor="start">BspD<tspan font-family="DejaVu Sans Mono, monospace" dx="-0.3" letter-spacing="-0.3">I</tspan></text>
<text x="224.2" y="584" font-family="DejaVu Sans, sans-serif" font-size="9.9" font-weight="bold" fill="#000" text-anchor="start"><tspan font-weight="normal" font-size="13" dx="-0.5">-</tspan><tspan dx="-0.6"> </tspan>Cla<tspan font-family="DejaVu Sans Mono, monospace" dx="-0.3" letter-spacing="-0.3">I</tspan></text>
<text x="206.25" y="596" font-family="DejaVu Sans, sans-serif" font-size="9.15" font-weight="normal" fill="#000" text-anchor="middle">(2771)</text>
<text x="228.5" y="596" font-family="DejaVu Sans, sans-serif" font-size="9.9" font-weight="bold" fill="#000" text-anchor="start">EcoR<tspan font-family="DejaVu Sans Mono, monospace" dx="-0.3" letter-spacing="-0.3">I</tspan></text>
<text x="227.5" y="608" font-family="DejaVu Sans, sans-serif" font-size="9.15" font-weight="normal" fill="#000" text-anchor="middle">(2769)</text>
<text x="250" y="608" font-family="DejaVu Sans, sans-serif" font-size="9.9" font-weight="bold" fill="#000" text-anchor="start">Pst<tspan font-family="DejaVu Sans Mono, monospace" dx="-0.3" letter-spacing="-0.3">I</tspan></text>
<text x="230.45" y="620" font-family="DejaVu Sans, sans-serif" font-size="9.15" font-weight="normal" fill="#000" text-anchor="middle">(2761)</text>
<text x="252.1" y="620" font-family="DejaVu Sans, sans-serif" font-size="9.9" font-weight="bold" fill="#000" text-anchor="start">Sma<tspan font-family="DejaVu Sans Mono, monospace" dx="-0.3" letter-spacing="-0.3">I</tspan></text>
<text x="190.4" y="632" font-family="DejaVu Sans, sans-serif" font-size="9.15" font-weight="normal" fill="#000" text-anchor="middle">(2759)</text>
<text x="212.1" y="632" font-family="DejaVu Sans, sans-serif" font-size="9.9" font-weight="bold" fill="#000" text-anchor="start">TspM<tspan font-family="DejaVu Sans Mono, monospace" dx="-0.3" letter-spacing="-0.3">I</tspan></text>
<text x="257.1" y="632" font-family="DejaVu Sans, sans-serif" font-size="9.9" font-weight="bold" fill="#000" text-anchor="start"><tspan font-weight="normal" font-size="13" dx="-0.5">-</tspan><tspan dx="-0.6"> </tspan>Xma<tspan font-family="DejaVu Sans Mono, monospace" dx="-0.3" letter-spacing="-0.3">I</tspan></text>
<text x="246.4" y="644" font-family="DejaVu Sans, sans-serif" font-size="9.15" font-weight="normal" fill="#000" text-anchor="middle">(2753)</text>
<text x="268.6" y="644" font-family="DejaVu Sans, sans-serif" font-size="9.9" font-weight="bold" fill="#000" text-anchor="start">BamH<tspan font-family="DejaVu Sans Mono, monospace" dx="-0.3" letter-spacing="-0.3">I</tspan></text>
<rect x="283" y="652.6" width="55.4" height="11.8" rx="3.2" ry="3.2" fill="#e2b5fd" stroke="#a02cff" stroke-width="1"/>
<text x="310.7" y="662" font-family="DejaVu Sans, sans-serif" font-size="10" font-weight="normal" fill="#000" text-anchor="middle">SK primer</text>
<text x="310.25" y="680" font-family="DejaVu Sans, sans-serif" font-size="9.15" font-weight="normal" fill="#000" text-anchor="middle">(2747)</text>
<text x="331.8" y="680" font-family="DejaVu Sans, sans-serif" font-size="9.9" font-weight="bold" fill="#000" text-anchor="start">Spe<tspan font-family="DejaVu Sans Mono, monospace" dx="-0.3" letter-spacing="-0.3">I</tspan></text>
<text x="249" y="698" font-family="DejaVu Sans, sans-serif" font-size="9" font-weight="normal" fill="#a02cff" text-anchor="start" textLength="66.5" lengthAdjust="spacingAndGlyphs">(2741 .. 2757)</text>
<text x="356.4" y="698" font-family="Liberation Sans, sans-serif" font-size="11" font-weight="normal" fill="#a02cff" text-anchor="middle">pBluescriptSK</text>
<text x="568" y="63" font-family="DejaVu Sans, sans-serif" font-size="9" font-weight="normal" fill="#a02cff" text-anchor="start" textLength="44" lengthAdjust="spacingAndGlyphs">(10 .. 28)</text>
<text x="504.8" y="63" font-family="Liberation Sans, sans-serif" font-size="11" font-weight="normal" fill="#a02cff" text-anchor="start" textLength="51.8" lengthAdjust="spacingAndGlyphs">pBRforEco</text>
<text x="596.25" y="81" font-family="DejaVu Sans, sans-serif" font-size="9.15" font-weight="normal" fill="#000" text-anchor="middle">(67)</text>
<text x="551.1" y="81" font-family="DejaVu Sans, sans-serif" font-size="9.9" font-weight="bold" fill="#000" text-anchor="start">Zra<tspan font-family="DejaVu Sans Mono, monospace" dx="-0.3" letter-spacing="-0.3">I</tspan></text>
<text x="625.25" y="93" font-family="DejaVu Sans, sans-serif" font-size="9.15" font-weight="normal" fill="#000" text-anchor="middle">(69)</text>
<text x="573.6" y="93" font-family="DejaVu Sans, sans-serif" font-size="9.9" font-weight="bold" fill="#000" text-anchor="start">Aat<tspan font-family="DejaVu Sans Mono, monospace" dx="-0.3" letter-spacing="-0.3">I</tspan><tspan font-family="DejaVu Sans Mono, monospace" dx="-0.3" letter-spacing="-0.3">I</tspan></text>
<rect x="598.8" y="101.9" width="85.6" height="11.8" rx="3.2" ry="3.2" fill="#ffffff" stroke="#909090" stroke-width="1"/>
<text x="641.6" y="111" font-family="DejaVu Sans, sans-serif" font-size="10" font-weight="normal" fill="#000" text-anchor="middle">AmpR promoter</text>
<text x="671" y="129" font-family="DejaVu Sans, sans-serif" font-size="9" font-weight="normal" fill="#a02cff" text-anchor="start" textLength="55" lengthAdjust="spacingAndGlyphs">(419 .. 438)</text>
<text x="641.2" y="129" font-family="Liberation Sans, sans-serif" font-size="11" font-weight="normal" fill="#a02cff" text-anchor="middle">Amp-R</text>
<text x="691.75" y="147" font-family="DejaVu Sans, sans-serif" font-size="9.15" font-weight="normal" fill="#000" text-anchor="middle">(507)</text>
<text x="643.1" y="147" font-family="DejaVu Sans, sans-serif" font-size="9.9" font-weight="bold" fill="#000" text-anchor="start">Sca<tspan font-family="DejaVu Sans Mono, monospace" dx="-0.3" letter-spacing="-0.3">I</tspan></text>
<text x="774" y="268" font-family="DejaVu Sans, sans-serif" font-size="9.15" font-weight="normal" fill="#000" text-anchor="middle">(922)</text>
<text x="723.8" y="268" font-family="DejaVu Sans, sans-serif" font-size="9.9" font-weight="bold" fill="#000" text-anchor="start">Bsa<tspan font-family="DejaVu Sans Mono, monospace" dx="-0.3" letter-spacing="-0.3">I</tspan></text>
<text x="804.75" y="412" font-family="DejaVu Sans, sans-serif" font-size="9.15" font-weight="normal" fill="#000" text-anchor="middle">(1467)</text>
<text x="743.3" y="412" font-family="DejaVu Sans, sans-serif" font-size="9.9" font-weight="bold" fill="#000" text-anchor="start">AlwN<tspan font-family="DejaVu Sans Mono, monospace" dx="-0.3" letter-spacing="-0.3">I</tspan></text>
<text x="816" y="430" font-family="DejaVu Sans, sans-serif" font-size="9" font-weight="normal" fill="#a02cff" text-anchor="start" textLength="66" lengthAdjust="spacingAndGlyphs">(1721 .. 1740)</text>
<text x="772" y="430" font-family="Liberation Sans, sans-serif" font-size="11" font-weight="normal" fill="#a02cff" text-anchor="middle">pBR322ori-F</text>
<text x="784.75" y="448" font-family="DejaVu Sans, sans-serif" font-size="9.15" font-weight="normal" fill="#000" text-anchor="middle">(1876)</text>
<text x="737.6" y="448" font-family="DejaVu Sans, sans-serif" font-size="9.9" font-weight="bold" fill="#000" text-anchor="start">Pci<tspan font-family="DejaVu Sans Mono, monospace" dx="-0.3" letter-spacing="-0.3">I</tspan></text>
<text x="775" y="466" font-family="DejaVu Sans, sans-serif" font-size="9" font-weight="normal" fill="#a02cff" text-anchor="start" textLength="66.5" lengthAdjust="spacingAndGlyphs">(1974 .. 1991)</text>
<text x="747.1" y="466" font-family="Liberation Sans, sans-serif" font-size="11" font-weight="normal" fill="#a02cff" text-anchor="middle">L4440</text>
<text x="831.25" y="484" font-family="DejaVu Sans, sans-serif" font-size="9.15" font-weight="normal" fill="#000" text-anchor="middle">(1993)</text>
<text x="726.4" y="484" font-family="DejaVu Sans, sans-serif" font-size="9.9" font-weight="bold" fill="#000" text-anchor="start">BspQ<tspan font-family="DejaVu Sans Mono, monospace" dx="-0.3" letter-spacing="-0.3">I</tspan></text>
<text x="770.9" y="484" font-family="DejaVu Sans, sans-serif" font-size="9.9" font-weight="bold" fill="#000" text-anchor="start"><tspan font-weight="normal" font-size="13" dx="-0.5">-</tspan><tspan dx="-0.6"> </tspan>Sap<tspan font-family="DejaVu Sans Mono, monospace" dx="-0.3" letter-spacing="-0.3">I</tspan></text>
<rect x="716.7" y="492.3" width="87.7" height="11.8" rx="3.2" ry="3.2" fill="#a5cfdb" stroke="#2f8ba6" stroke-width="1"/>
<text x="760.55" y="502" font-family="DejaVu Sans, sans-serif" font-size="10" font-weight="normal" fill="#000" text-anchor="middle">CAP binding site</text>
<rect x="708.5" y="508.5" width="69.2" height="11.8" rx="3.2" ry="3.2" fill="#ffffff" stroke="#909090" stroke-width="1"/>
<text x="743.1" y="518" font-family="DejaVu Sans, sans-serif" font-size="10" font-weight="normal" fill="#000" text-anchor="middle">lac promoter</text>
<text x="803" y="536" font-family="DejaVu Sans, sans-serif" font-size="9" font-weight="normal" fill="#a02cff" text-anchor="start" textLength="66" lengthAdjust="spacingAndGlyphs">(2187 .. 2209)</text>
<text x="700.9" y="536" font-family="Liberation Sans, sans-serif" font-size="11" font-weight="normal" fill="#a02cff" text-anchor="start" textLength="89.7" lengthAdjust="spacingAndGlyphs">M13/pUC Reverse</text>
<rect x="686.5" y="544.3" width="64.9" height="11.8" rx="3.2" ry="3.2" fill="#a5cfdb" stroke="#2f8ba6" stroke-width="1"/>
<text x="718.95" y="554" font-family="DejaVu Sans, sans-serif" font-size="10" font-weight="normal" fill="#000" text-anchor="middle">lac operator</text>
<text x="752" y="572" font-family="DejaVu Sans, sans-serif" font-size="9" font-weight="normal" fill="#a02cff" text-anchor="start" textLength="66.5" lengthAdjust="spacingAndGlyphs">(2206 .. 2222)</text>
<text x="676.2" y="572" font-family="Liberation Sans, sans-serif" font-size="11" font-weight="normal" fill="#a02cff" text-anchor="start" textLength="64.4" lengthAdjust="spacingAndGlyphs">M13 Reverse</text>
<rect x="658.7" y="580.6" width="47" height="11.8" rx="3.2" ry="3.2" fill="#e2b5fd" stroke="#a02cff" stroke-width="1"/>
<text x="682.2" y="590" font-family="DejaVu Sans, sans-serif" font-size="10" font-weight="normal" fill="#000" text-anchor="middle">M13 rev</text>
<text x="667" y="608" font-family="DejaVu Sans, sans-serif" font-size="9" font-weight="normal" fill="#a02cff" text-anchor="start" textLength="66.5" lengthAdjust="spacingAndGlyphs">(2241 .. 2261)</text>
<text x="649.3" y="608" font-family="Liberation Sans, sans-serif" font-size="11" font-weight="normal" fill="#a02cff" text-anchor="middle">T3</text>
<rect x="621" y="616.5" width="68.4" height="11.8" rx="3.2" ry="3.2" fill="#ffffff" stroke="#909090" stroke-width="1"/>
<text x="655.2" y="626" font-family="DejaVu Sans, sans-serif" font-size="10" font-weight="normal" fill="#000" text-anchor="middle">T3 promoter</text>
<text x="671.5" y="644" font-family="DejaVu Sans, sans-serif" font-size="9.15" font-weight="normal" fill="#000" text-anchor="middle">(2276)</text>
<text x="598.4" y="644" font-family="DejaVu Sans, sans-serif" font-size="9.9" font-weight="bold" fill="#000" text-anchor="start">Eco53k<tspan font-family="DejaVu Sans Mono, monospace" dx="-0.3" letter-spacing="-0.3">I</tspan></text>
<text x="629.75" y="656" font-family="DejaVu Sans, sans-serif" font-size="9.15" font-weight="normal" fill="#000" text-anchor="middle">(2278)</text>
<text x="578.1" y="656" font-family="DejaVu Sans, sans-serif" font-size="9.9" font-weight="bold" fill="#000" text-anchor="start">Sac<tspan font-family="DejaVu Sans Mono, monospace" dx="-0.3" letter-spacing="-0.3">I</tspan></text>
<text x="615.5" y="668" font-family="DejaVu Sans, sans-serif" font-size="9.15" font-weight="normal" fill="#000" text-anchor="middle">(2322)</text>
<text x="554.2" y="668" font-family="DejaVu Sans, sans-serif" font-size="9.9" font-weight="bold" fill="#000" text-anchor="start">BseR<tspan font-family="DejaVu Sans Mono, monospace" dx="-0.3" letter-spacing="-0.3">I</tspan></text>
<text x="578.75" y="680" font-family="DejaVu Sans, sans-serif" font-size="9.15" font-weight="normal" fill="#000" text-anchor="middle">(2354)</text>
<text x="524.1" y="680" font-family="DejaVu Sans, sans-serif" font-size="9.9" font-weight="bold" fill="#000" text-anchor="start">Age<tspan font-family="DejaVu Sans Mono, monospace" dx="-0.3" letter-spacing="-0.3">I</tspan></text>
<text x="464.5" y="698" font-family="DejaVu Sans, sans-serif" font-size="9" font-weight="normal" fill="#a02cff" text-anchor="start" textLength="66.5" lengthAdjust="spacingAndGlyphs">(2697 .. 2720)</text>
<text x="424.3" y="698" font-family="Liberation Sans, sans-serif" font-size="11" font-weight="normal" fill="#a02cff" text-anchor="start" textLength="25.7" lengthAdjust="spacingAndGlyphs">GAL1</text>
<text x="804.7" y="10" font-family="Liberation Sans, sans-serif" font-size="7.4" font-weight="normal" fill="#c4c4c4" text-anchor="start" textLength="36.8" lengthAdjust="spacingAndGlyphs">Created by</text>
<path d="M845.3,1.6 L847.6,1.6 L847.6,11.2 L846.4,12.6 L845.3,11.2 Z M848.3,1.6 L850.2,1.6 Q851.8,3.2 850.6,5.4 L848.3,6.6 Z" fill="#7ccdfb"/>
<text x="854" y="11.6" font-family="Liberation Sans, sans-serif" font-size="9.6" font-weight="normal" fill="#9aa1a9" text-anchor="start" textLength="43.8" lengthAdjust="spacingAndGlyphs">SnapGene</text>
</svg>
</body></html>
